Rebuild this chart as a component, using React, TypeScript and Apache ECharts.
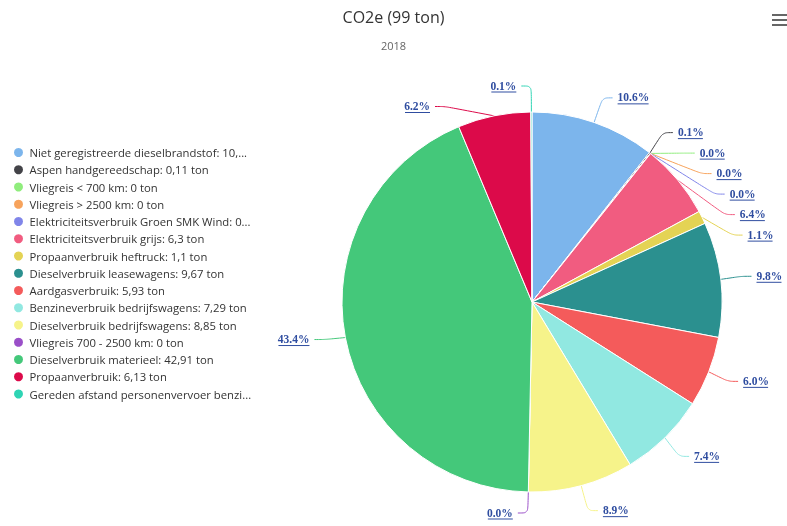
import React, { useEffect, useRef } from "react";
import * as echarts from "echarts";

const names = [
  "Niet geregistreerde dieselbrandstof",
  "Aspen handgereedschap",
  "Vliegreis < 700 km",
  "Vliegreis > 2500 km",
  "Elektriciteitsverbruik Groen SMK Wind",
  "Elektriciteitsverbruik grijs",
  "Propaanverbruik heftruck",
  "Dieselverbruik leasewagens",
  "Aardgasverbruik",
  "Benzineverbruik bedrijfswagens",
  "Dieselverbruik bedrijfswagens",
  "Vliegreis 700 - 2500 km",
  "Dieselverbruik materieel",
  "Propaanverbruik",
  "Gereden afstand personenvervoer benzine",
];

const values = [10.48, 0.11, 0, 0, 0.02, 6.3, 1.1, 9.67, 5.93, 7.29, 8.85, 0, 42.91, 6.13, 0.1];

const colors = [
  "#7cb5ec", "#434348", "#90ed7d", "#f7a35c", "#8085e9", "#f15c80", "#e4d354",
  "#2b908f", "#f45b5b", "#91e8e1", "#f6f38a", "#9a4fc8", "#44c87a", "#dc0a4a", "#2ed4b4",
];

const titleText = "CO2e (99 ton)";
const subtitleText = "2018";

const fmtNum = (v: number) => String(v).replace(".", ",");

export default function App() {
  const ref = useRef<HTMLDivElement>(null);
  useEffect(() => {
    if (!ref.current) return;
    const chart = echarts.init(ref.current, undefined, { renderer: "svg" });
    const valueByName: Record<string, number> = {};
    names.forEach((n, i) => (valueByName[n] = values[i]));
    chart.setOption({
      animation: false,
      color: colors,
      title: {
        text: titleText,
        subtext: subtitleText,
        left: "center",
        top: 4,
        itemGap: 15,
        textStyle: { fontFamily: "Open Sans", fontSize: 16, fontWeight: "normal", color: "#333" },
        subtextStyle: { fontFamily: "Open Sans", fontSize: 11, color: "#666" },
      },
      legend: {
        orient: "vertical",
        left: 12,
        top: 146,
        padding: 0,
        icon: "circle",
        itemWidth: 12,
        itemHeight: 11,
        itemGap: 4.25,
        formatter: (n: string) => `${n}: ${fmtNum(valueByName[n])} ton`,
        textStyle: {
          fontFamily: "Open Sans",
          fontSize: 11.3,
          color: "#333",
          lineHeight: 11,
          width: 224,
          overflow: "truncate",
          ellipsis: "...",
        },
      },
      graphic: [0, 5, 10].map((dy) => ({
        type: "rect",
        right: 0,
        top: 14 + dy,
        shape: { width: 15, height: 2 },
        style: { fill: "#666" },
      })),
      series: [
        {
          type: "pie",
          center: [532, 302],
          radius: [0, 190],
          startAngle: 90,
          clockwise: true,
          percentPrecision: 1,
          avoidLabelOverlap: true,
          itemStyle: { borderColor: "#fff", borderWidth: 1 },
          emphasis: { disabled: true },
          labelLine: { show: true, length: 26, length2: 10, smooth: 0.3, lineStyle: { width: 1 } },
          label: {
            show: true,
            position: "outside",
            overflow: "none",
            edgeDistance: 0,
            formatter: (p: any) => {
              const t = p.percent.toFixed(1) + "%";
              return `{a|${t}}\n{${t.length > 4 ? "u5" : "u4"}|}`;
            },
            rich: {
              a: { fontFamily: "Liberation Serif", fontWeight: "bold", fontSize: 11.5, color: "#2f4da0", lineHeight: 12 },
              u4: { height: 1, lineHeight: 1, width: 25, backgroundColor: "#2f4da0" },
              u5: { height: 1, lineHeight: 1, width: 31, backgroundColor: "#2f4da0" },
            },
          },
          data: names.map((n, i) => ({ name: n, value: values[i] })),
        },
      ],
    });
    return () => chart.dispose();
  }, []);
  return <div ref={ref} style={{ position: "fixed", left: 0, top: 0, width: 787, height: 526 }} />;
}
